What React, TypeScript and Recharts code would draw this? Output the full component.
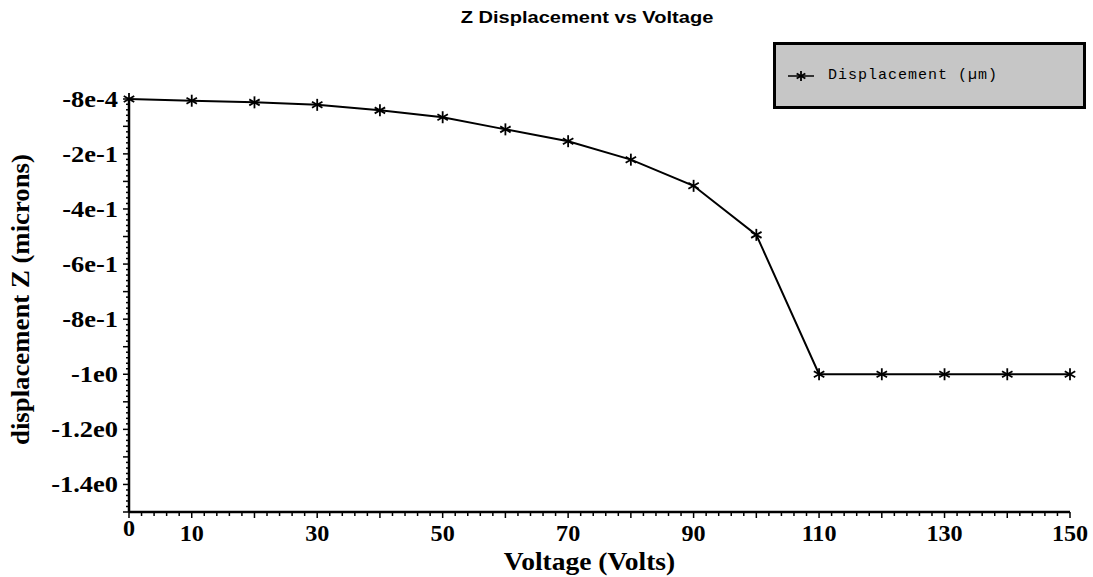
import React from 'react';
import { LineChart, Line, XAxis, YAxis } from 'recharts';

const voltages = [0, 10, 20, 30, 40, 50, 60, 70, 80, 90, 100, 110, 120, 130, 140, 150];
const displacement = [-0.0008, -0.007, -0.013, -0.022, -0.042, -0.067, -0.111, -0.154, -0.221, -0.316, -0.494, -1.0, -1.0, -1.0, -1.0, -1.0];

const xLabelTicks = [0, 10, 30, 50, 70, 90, 110, 130, 150];
const yLabelTicks = [-0.0008, -0.2, -0.4, -0.6, -0.8, -1.0, -1.2, -1.4];
const yLabelText = ['-8e-4', '-2e-1', '-4e-1', '-6e-1', '-8e-1', '-1e0', '-1.2e0', '-1.4e0'];

const seriesName = 'Displacement (\u00b5m)';
const title = 'Z Displacement vs Voltage';

// minor tick grids (every 2 V, every 0.02 um)
const xTicks = Array.from({ length: 76 }, (_, i) => i * 2);
const yTicks = [...Array.from({ length: 75 }, (_, i) => Math.round((-1.5 + i * 0.02) * 100) / 100), -0.0008];

const data = voltages.map((v, i) => ({ v, d: displacement[i] }));

const serif = '"Liberation Serif", "Times New Roman", serif';
const MARK = 6;

const Asterisk = ({ cx, cy, size = MARK }: any) => {
  if (cx == null || cy == null) return null;
  const dx = size * 0.87;
  const dy = size * 0.5;
  return (
    <g stroke="#000" strokeWidth={1.8}>
      <line x1={cx} y1={cy - size} x2={cx} y2={cy + size} />
      <line x1={cx - dx} y1={cy - dy} x2={cx + dx} y2={cy + dy} />
      <line x1={cx - dx} y1={cy + dy} x2={cx + dx} y2={cy - dy} />
    </g>
  );
};

const XTick = ({ x, y, payload }: any) => {
  const v = payload.value;
  const major = v % 10 === 0;
  const labelled = xLabelTicks.includes(v);
  return (
    <g>
      <line x1={x} y1={y} x2={x} y2={y + (major ? 6 : 4)} stroke="#000" strokeWidth={1.5} />
      {labelled && (
        <text
          transform={`translate(${x},${y + (v === 0 ? 24 : 29)}) scale(1.05,1)`}
          textAnchor="middle"
          fontFamily={serif}
          fontWeight="bold"
          fontSize={23}
          fill="#000"
        >
          {v}
        </text>
      )}
    </g>
  );
};

const YTick = ({ x, y, payload }: any) => {
  const v = payload.value;
  const major = Math.abs(v * 10 - Math.round(v * 10)) < 1e-6 || v === -0.0008;
  const idx = yLabelTicks.indexOf(v);
  return (
    <g>
      <line x1={x} y1={y} x2={x - (major ? 6 : 3)} y2={y} stroke="#000" strokeWidth={1.5} />
      {idx >= 0 && (
        <text
          transform={`translate(${x - 11},${y + 8}) scale(1.15,1)`}
          textAnchor="end"
          fontFamily={serif}
          fontWeight="bold"
          fontSize={23}
          fill="#000"
        >
          {yLabelText[idx]}
        </text>
      )}
    </g>
  );
};

const XLabel = ({ viewBox }: any) => {
  const cx = viewBox.x + viewBox.width / 2 - 10;
  return (
    <text
      transform={`translate(${cx},${viewBox.y + 58}) scale(1.1,1)`}
      textAnchor="middle"
      fontFamily={serif}
      fontWeight="bold"
      fontSize={25}
      fill="#000"
    >
      Voltage (Volts)
    </text>
  );
};

const YLabel = ({ viewBox }: any) => {
  const cy = viewBox.y + viewBox.height / 2 - 6;
  return (
    <text
      transform={`translate(29,${cy}) rotate(-90) scale(1.03,1)`}
      textAnchor="middle"
      fontFamily={serif}
      fontWeight="bold"
      fontSize={26}
      fill="#000"
    >
      displacement Z (microns)
    </text>
  );
};

export default function App() {
  return (
    <div style={{ position: 'absolute', left: 0, top: 0, width: 1093, height: 577, background: '#fff' }}>
      <div
        style={{
          position: 'absolute',
          left: 587,
          top: 8,
          whiteSpace: 'nowrap',
          fontFamily: '"Liberation Sans", Arial, sans-serif',
          fontWeight: 'bold',
          fontSize: 17,
          color: '#000',
          transform: 'translateX(-50%) scaleX(1.18)',
        }}
      >
        {title}
      </div>
      <div
        style={{
          position: 'absolute',
          left: 773,
          top: 42,
          width: 307,
          height: 61,
          border: '3px solid #000',
          background: '#c6c6c6',
          display: 'flex',
          alignItems: 'center',
        }}
      >
        <svg width={40} height={20} style={{ marginLeft: 12 }}>
          <line x1={0} y1={10} x2={26} y2={10} stroke="#000" strokeWidth={1.5} />
          <Asterisk cx={13} cy={10} size={5} />
        </svg>
        <span
          style={{
            fontFamily: '"Liberation Mono", "Courier New", monospace',
            fontSize: 15,
            letterSpacing: 1,
            color: '#000',
          }}
        >
          {seriesName}
        </span>
      </div>
      <LineChart width={1093} height={577} data={data} margin={{ top: 99, right: 23, bottom: 0, left: 0 }}>
        <XAxis
          dataKey="v"
          type="number"
          domain={[0, 150]}
          ticks={xTicks}
          interval={0}
          tickSize={0}
          tickMargin={0}
          tickLine={false}
          tick={<XTick />}
          height={65}
          axisLine={{ stroke: '#000', strokeWidth: 2.5 }}
          label={<XLabel />}
        />
        <YAxis
          type="number"
          domain={[-1.5, -0.0008]}
          ticks={yTicks}
          interval={0}
          tickSize={0}
          tickMargin={0}
          tickLine={false}
          tick={<YTick />}
          width={129}
          axisLine={{ stroke: '#000', strokeWidth: 2.5 }}
          label={<YLabel />}
        />
        <Line
          type="linear"
          dataKey="d"
          name={seriesName}
          stroke="#000"
          strokeWidth={2}
          dot={(p: any) => <Asterisk key={p.index} cx={p.cx} cy={p.cy} />}
          activeDot={false}
          isAnimationActive={false}
        />
      </LineChart>
    </div>
  );
}
